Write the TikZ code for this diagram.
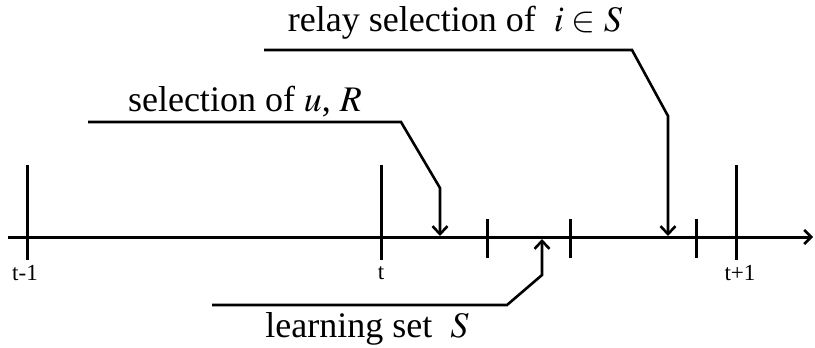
\documentclass[tikz,border=0pt]{standalone}
\usepackage{mathptmx}
\usepackage{fontspec}
\setmainfont{Liberation Serif}
\usetikzlibrary{arrows.meta}

\begin{document}
\begin{tikzpicture}[
    x=1pt, y=-1pt,
    axis/.style={line width=3pt, -{Straight Barb[length=7pt,width=14pt,line width=2.5pt]}},
    majortick/.style={line width=3pt},
    minortick/.style={line width=3pt},
    callout/.style={line width=2.6pt, -{Straight Barb[length=8pt,width=15pt]}},
    timelabel/.style={font=\fontsize{23}{26}\selectfont, inner sep=0pt},
    eventlabel/.style={font=\fontsize{36}{40}\selectfont, anchor=base, inner sep=0pt}
]
\useasboundingbox (0,0) rectangle (815,348);

% time axis
\coordinate (ax0) at (8,237);
\coordinate (ax1) at (813,237);
\draw[axis] (ax0) -- (ax1);

% slot boundaries
\foreach \x in {27,381,736}
    \draw[majortick] (\x,165) -- (\x,260);
\foreach \x in {487,570,696}
    \draw[minortick] (\x,219) -- (\x,258);

% slot labels
\node[timelabel] (tprev) at (25,273) {t-1};
\node[timelabel] (tnow)  at (381,273) {t};
\node[timelabel] (tnext) at (740,273) {t+1};

% selection of u, R
\node[eventlabel] (selU) at (245,111) {selection of $u$, $R$};
\coordinate (selUa) at (88,122);
\coordinate (selUb) at (401,122);
\coordinate (selUc) at (440,188);
\coordinate (selUt) at (440,236);
\draw[callout] (selUa) -- (selUb) -- (selUc) -- (selUt);

% learning set S
\node[eventlabel] (learnS) at (367,337) {learning set\ \ $S$};
\coordinate (learnSa) at (212,305);
\coordinate (learnSb) at (507,305);
\coordinate (learnSc) at (542,275);
\coordinate (learnSt) at (542,239);
\draw[callout] (learnSa) -- (learnSb) -- (learnSc) -- (learnSt);

% relay selection of i in S
\node[eventlabel] (relay) at (455,31) {relay selection of\ \ $i \in S$};
\coordinate (relaya) at (264,50);
\coordinate (relayb) at (632,50);
\coordinate (relayc) at (668,116);
\coordinate (relayt) at (668,236);
\draw[callout] (relaya) -- (relayb) -- (relayc) -- (relayt);

\end{tikzpicture}
\end{document}
